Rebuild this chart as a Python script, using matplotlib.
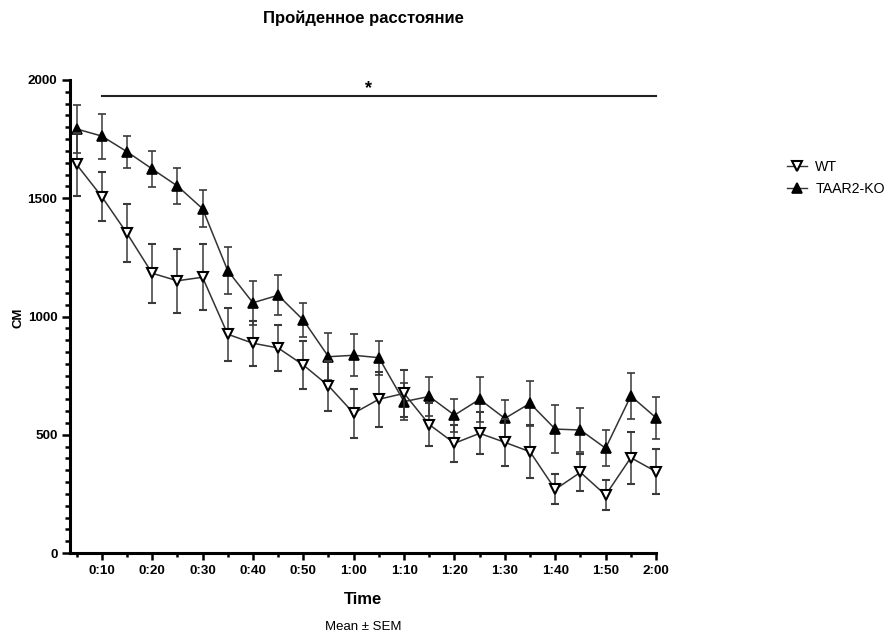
import matplotlib
matplotlib.use("Agg")
import matplotlib.pyplot as plt
from matplotlib.lines import Line2D
import numpy as np

plt.rcParams['font.family'] = ['Liberation Sans', 'DejaVu Sans']

# Time points (minutes) and tick labels
minutes = [5, 10, 15, 20, 25, 30, 35, 40, 45, 50, 55, 60,
           65, 70, 75, 80, 85, 90, 95, 100, 105, 110, 115, 120]
tick_minutes = [10, 20, 30, 40, 50, 60, 70, 80, 90, 100, 110, 120]
tick_labels = ["0:10", "0:20", "0:30", "0:40", "0:50", "1:00",
               "1:10", "1:20", "1:30", "1:40", "1:50", "2:00"]

# Distance travelled, cm (mean and SEM)
wt_mean = [1643, 1507, 1352, 1183, 1151, 1166, 925, 887, 867, 795, 707, 591,
           650, 675, 543, 464, 506, 468, 428, 269, 341, 245, 403, 344]
wt_sem = [135, 105, 122, 125, 135, 140, 112, 95, 98, 102, 105, 103,
          116, 100, 90, 78, 89, 100, 112, 63, 78, 63, 110, 95]
ko_mean = [1793, 1763, 1697, 1624, 1552, 1456, 1194, 1058, 1090, 985, 830, 836,
           826, 640, 662, 583, 650, 569, 633, 524, 520, 443, 664, 572]
ko_sem = [100, 95, 68, 77, 77, 78, 98, 93, 84, 72, 100, 88,
          72, 78, 84, 70, 95, 80, 96, 100, 95, 77, 98, 88]

fig = plt.figure(figsize=(8.89, 6.35), dpi=100)
ax = fig.add_axes([70 / 889, 1 - 553 / 635, (656 - 70) / 889, (553 - 80) / 635])

line_col = '#333333'
err_kw = dict(ecolor='#3a3a3a', elinewidth=1.1, capsize=2.8, capthick=1.1)

ko = ax.errorbar(minutes, ko_mean, yerr=ko_sem, color=line_col, lw=1.1,
                 marker='^', ms=7.5, mfc='black', mec='black', mew=1.2,
                 zorder=3, **err_kw)
wt = ax.errorbar(minutes, wt_mean, yerr=wt_sem, color=line_col, lw=1.1,
                 marker='v', ms=7.5, mfc='white', mec='black', mew=1.5,
                 zorder=4, **err_kw)
for cont in (ko, wt):
    for art in cont.get_children():
        art.set_clip_on(False)

ax.set_xlim(3.7, 120)
ax.set_ylim(0, 2000)

ax.set_xticks(tick_minutes)
ax.set_xticklabels(tick_labels)
ax.set_xticks(np.arange(5, 120, 10), minor=True)
ax.set_yticks([0, 500, 1000, 1500, 2000])
ax.set_yticks(np.arange(0, 2001, 50), minor=True)

for lab in ax.get_xticklabels() + ax.get_yticklabels():
    lab.set_fontweight('bold')
    lab.set_fontsize(9.7)

ax.tick_params(axis='both', which='major', direction='out', width=1.8,
               color='black')
ax.tick_params(axis='y', which='major', length=6, pad=3)
ax.tick_params(axis='x', which='major', length=5, pad=4)
ax.tick_params(axis='y', which='minor', length=3.5, width=1.8)
ax.tick_params(axis='x', which='minor', length=3, width=1.8)

for side in ('top', 'right'):
    ax.spines[side].set_visible(False)
for side in ('left', 'bottom'):
    ax.spines[side].set_linewidth(2.2)

# Significance bar
ax.plot([10, 120], [1932, 1932], color='#222222', lw=1.5, clip_on=False)
ax.text(63, 1965, '*', ha='center', va='center', fontsize=13,
        fontweight='bold', clip_on=False)

# Labels
fig.text(363 / 889, 1 - 18 / 635, 'Пройденное расстояние', ha='center',
         va='center', fontsize=12, fontweight='bold')
fig.text(18 / 889, 1 - 318 / 635, 'СМ', rotation=90, ha='center',
         va='center', fontsize=9.5, fontweight='bold')
fig.text(363 / 889, 1 - 599 / 635, 'Time', ha='center', va='center',
         fontsize=12, fontweight='bold')
fig.text(363 / 889, 1 - 627 / 635, 'Mean ± SEM', ha='center', va='center',
         fontsize=9.5)

handles = [
    Line2D([], [], color=line_col, lw=1.0, marker='v', ms=7.5,
           mfc='white', mec='black', mew=1.5),
    Line2D([], [], color=line_col, lw=1.0, marker='^', ms=7.5,
           mfc='black', mec='black', mew=1.2),
]
fig.legend(handles, ['WT', 'TAAR2-KO'], loc='upper left',
           bbox_to_anchor=(787 / 889, 1 - 160 / 635), frameon=False,
           fontsize=10.2, handlelength=1.4, handletextpad=0.6,
           labelspacing=0.55, borderaxespad=0, borderpad=0)

fig.savefig('out.png', dpi=100, facecolor='white')
